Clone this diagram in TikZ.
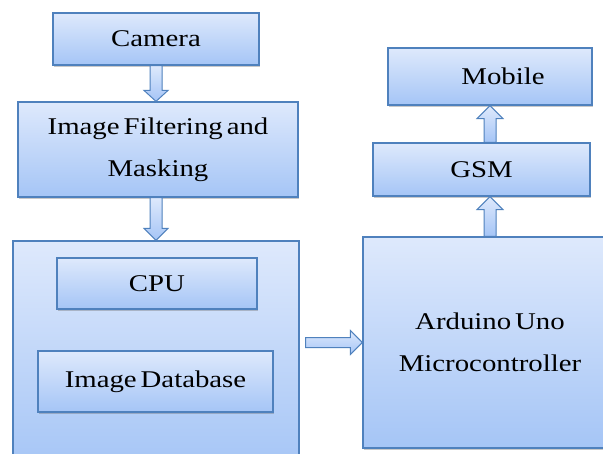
\documentclass[tikz,border=0pt]{standalone}
\usepackage{fontspec}
\setmainfont{Liberation Serif}[FakeStretch=1.2,WordSpace=0.55]
\usetikzlibrary{calc,shadows}
\definecolor{bord}{RGB}{79,129,189}
\definecolor{topc}{RGB}{222,233,252}
\definecolor{botc}{RGB}{165,197,246}
\tikzset{
  box/.style={draw=bord, line width=1.2pt, top color=topc, bottom color=botc,
    rectangle, inner sep=0pt, font=\fontsize{24}{42}\selectfont, align=center,
    drop shadow={shadow xshift=1.2pt, shadow yshift=-1.5pt, opacity=0.35, fill=black!60}},
  arr/.style={draw=bord, line width=1pt, top color=topc, bottom color=botc, line join=miter},
}
\begin{document}
\begin{tikzpicture}[x=1pt,y=-1pt]
\useasboundingbox (0,0) rectangle (603,453);
\fill[white] (0,0) rectangle (603,453);
\begin{scope}
\clip (0,0) rectangle (603,453);
% boxes
\node[box, minimum width=206pt, minimum height=52pt] (cam) at (156,39) {Camera};
\node[box, minimum width=280pt, minimum height=95pt] (filt) at (158,149.5) {Image Filtering and\\Masking};
\node[box, minimum width=286pt, minimum height=229pt] (left) at (156,355.5) {};
\node[box, minimum width=200pt, minimum height=51pt] (cpu) at (157,283.5) {CPU};
\node[box, minimum width=235pt, minimum height=61pt] (idb) at (155.5,381.5) {Image Database};
\node[box, minimum width=254pt, minimum height=211pt] (ard) at (490,342.5) {Arduino Uno\\Microcontroller};
\node[box, minimum width=217pt, minimum height=53pt] (gsm) at (481.5,169.5) {GSM};
\node[box, minimum width=204pt, minimum height=57pt] (mob) at (490,76.5) {\hspace*{26pt}Mobile};
% block arrows
\draw[arr] let \p1=(cam.south), \p2=(filt.north) in
  (\x1-6pt,\y1) -- (\x1+6pt,\y1) -- (\x1+6pt,\y2+11pt) -- (\x1+12pt,\y2+11pt)
  -- (\x1,\y2) -- (\x1-12pt,\y2+11pt) -- (\x1-6pt,\y2+11pt) -- cycle;
\draw[arr] let \p1=(filt.south), \p2=(left.north) in
  (\x2-6pt,\y1) -- (\x2+6pt,\y1) -- (\x2+6pt,\y2+12pt) -- (\x2+12pt,\y2+12pt)
  -- (\x2,\y2) -- (\x2-12pt,\y2+12pt) -- (\x2-6pt,\y2+12pt) -- cycle;
\draw[arr] let \p1=(left.east), \p2=(ard.west) in
  (\x1+6pt,\y2-5pt) -- (\x2-12pt,\y2-5pt) -- (\x2-12pt,\y2-12pt) -- (\x2,\y2)
  -- (\x2-12pt,\y2+12pt) -- (\x2-12pt,\y2+5pt) -- (\x1+6pt,\y2+5pt) -- cycle;
\draw[arr] let \p1=(ard.north), \p2=(gsm.south) in
  (\x1-6pt,\y1) -- (\x1+6pt,\y1) -- (\x1+6pt,\y2-13pt) -- (\x1+13pt,\y2-13pt)
  -- (\x1,\y2) -- (\x1-13pt,\y2-13pt) -- (\x1-6pt,\y2-13pt) -- cycle;
\draw[arr] let \p1=(gsm.north), \p2=(mob.south) in
  (\x2-6pt,\y1) -- (\x2+6pt,\y1) -- (\x2+6pt,\y2-13pt) -- (\x2+13pt,\y2-13pt)
  -- (\x2,\y2) -- (\x2-13pt,\y2-13pt) -- (\x2-6pt,\y2-13pt) -- cycle;
\end{scope}
\end{tikzpicture}
\end{document}
